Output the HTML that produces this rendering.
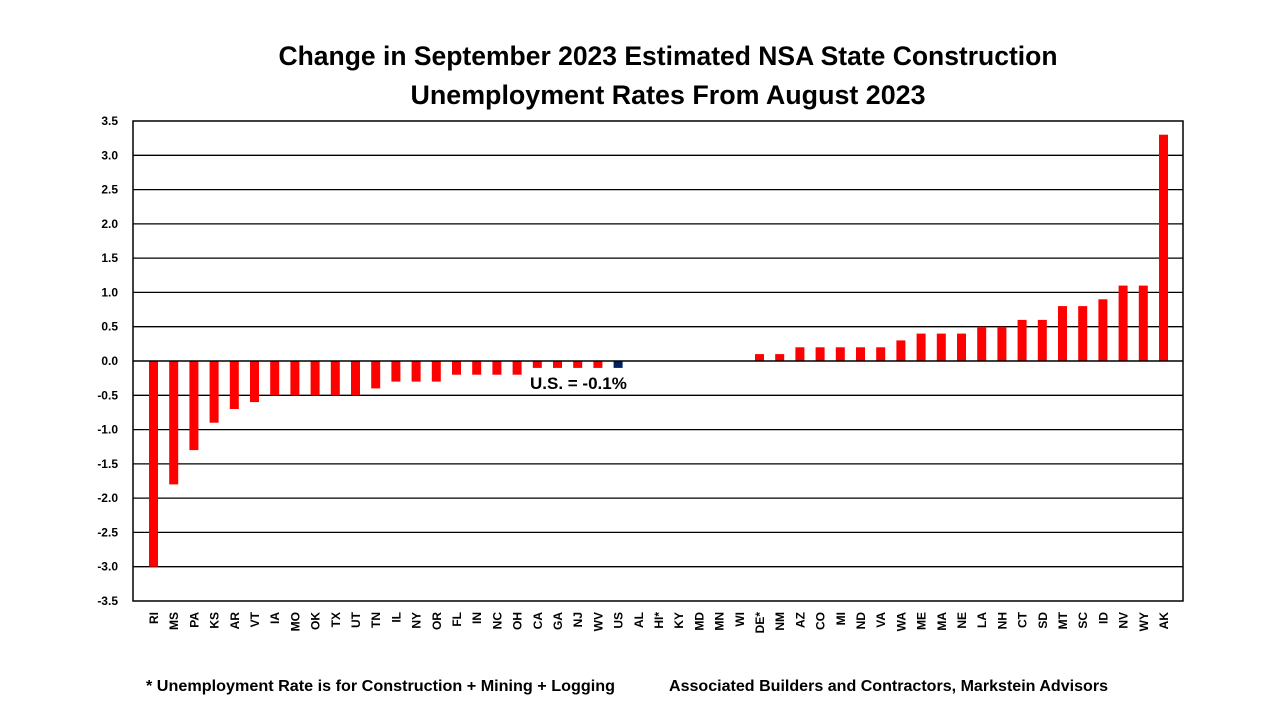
<!DOCTYPE html>
<html><head><meta charset="utf-8"><style>
html,body{margin:0;padding:0;background:#fff;}
svg{display:block;font-family:"Liberation Sans",Arial,sans-serif;font-weight:bold;}
</style></head><body>
<svg width="1280" height="720" viewBox="0 0 1280 720" xmlns="http://www.w3.org/2000/svg">
<rect width="1280" height="720" fill="#fff"/>
<text x="668" y="65" font-size="27" text-anchor="middle" textLength="779" lengthAdjust="spacingAndGlyphs">Change in September 2023 Estimated NSA State Construction</text>
<text x="668" y="104" font-size="27" text-anchor="middle" textLength="515" lengthAdjust="spacingAndGlyphs">Unemployment Rates From August 2023</text>
<g stroke="#000" stroke-width="1.3">
<line x1="133" y1="155.3" x2="1183" y2="155.3"/>
<line x1="133" y1="189.6" x2="1183" y2="189.6"/>
<line x1="133" y1="223.9" x2="1183" y2="223.9"/>
<line x1="133" y1="258.1" x2="1183" y2="258.1"/>
<line x1="133" y1="292.4" x2="1183" y2="292.4"/>
<line x1="133" y1="326.7" x2="1183" y2="326.7"/>
<line x1="133" y1="395.3" x2="1183" y2="395.3"/>
<line x1="133" y1="429.6" x2="1183" y2="429.6"/>
<line x1="133" y1="463.9" x2="1183" y2="463.9"/>
<line x1="133" y1="498.1" x2="1183" y2="498.1"/>
<line x1="133" y1="532.4" x2="1183" y2="532.4"/>
<line x1="133" y1="566.7" x2="1183" y2="566.7"/>
</g>
<g fill="#f00">
<rect x="149" y="361" width="9" height="205.7"/>
<rect x="169.2" y="361" width="9" height="123.4"/>
<rect x="189.4" y="361" width="9" height="89.1"/>
<rect x="209.6" y="361" width="9" height="61.7"/>
<rect x="229.8" y="361" width="9" height="48"/>
<rect x="250" y="361" width="9" height="41.1"/>
<rect x="270.2" y="361" width="9" height="34.3"/>
<rect x="290.4" y="361" width="9" height="34.3"/>
<rect x="310.6" y="361" width="9" height="34.3"/>
<rect x="330.8" y="361" width="9" height="34.3"/>
<rect x="351" y="361" width="9" height="34.3"/>
<rect x="371.2" y="361" width="9" height="27.4"/>
<rect x="391.4" y="361" width="9" height="20.6"/>
<rect x="411.6" y="361" width="9" height="20.6"/>
<rect x="431.8" y="361" width="9" height="20.6"/>
<rect x="452" y="361" width="9" height="13.7"/>
<rect x="472.2" y="361" width="9" height="13.7"/>
<rect x="492.4" y="361" width="9" height="13.7"/>
<rect x="512.6" y="361" width="9" height="13.7"/>
<rect x="532.8" y="361" width="9" height="6.9"/>
<rect x="553" y="361" width="9" height="6.9"/>
<rect x="573.2" y="361" width="9" height="6.9"/>
<rect x="593.4" y="361" width="9" height="6.9"/>
<rect x="755" y="354.1" width="9" height="6.9"/>
<rect x="775.2" y="354.1" width="9" height="6.9"/>
<rect x="795.4" y="347.3" width="9" height="13.7"/>
<rect x="815.6" y="347.3" width="9" height="13.7"/>
<rect x="835.8" y="347.3" width="9" height="13.7"/>
<rect x="856" y="347.3" width="9" height="13.7"/>
<rect x="876.2" y="347.3" width="9" height="13.7"/>
<rect x="896.4" y="340.4" width="9" height="20.6"/>
<rect x="916.6" y="333.6" width="9" height="27.4"/>
<rect x="936.8" y="333.6" width="9" height="27.4"/>
<rect x="957" y="333.6" width="9" height="27.4"/>
<rect x="977.2" y="326.7" width="9" height="34.3"/>
<rect x="997.4" y="326.7" width="9" height="34.3"/>
<rect x="1017.6" y="319.9" width="9" height="41.1"/>
<rect x="1037.8" y="319.9" width="9" height="41.1"/>
<rect x="1058" y="306.1" width="9" height="54.9"/>
<rect x="1078.2" y="306.1" width="9" height="54.9"/>
<rect x="1098.4" y="299.3" width="9" height="61.7"/>
<rect x="1118.6" y="285.6" width="9" height="75.4"/>
<rect x="1138.8" y="285.6" width="9" height="75.4"/>
<rect x="1159" y="134.7" width="9" height="226.3"/>
</g>
<rect x="613.6" y="361" width="9" height="6.9" fill="#002060"/>
<line x1="133" y1="361" x2="1183" y2="361" stroke="#000" stroke-width="1.5"/>
<rect x="133" y="121" width="1050" height="480" fill="none" stroke="#000" stroke-width="1.5"/>
<text x="530" y="389" font-size="17">U.S. = -0.1%</text>
<g font-size="12" text-anchor="end">
<text x="118" y="125">3.5</text>
<text x="118" y="159.3">3.0</text>
<text x="118" y="193.6">2.5</text>
<text x="118" y="227.9">2.0</text>
<text x="118" y="262.1">1.5</text>
<text x="118" y="296.4">1.0</text>
<text x="118" y="330.7">0.5</text>
<text x="118" y="365">0.0</text>
<text x="118" y="399.3">-0.5</text>
<text x="118" y="433.6">-1.0</text>
<text x="118" y="467.9">-1.5</text>
<text x="118" y="502.1">-2.0</text>
<text x="118" y="536.4">-2.5</text>
<text x="118" y="570.7">-3.0</text>
<text x="118" y="605">-3.5</text>
</g>
<g font-size="12" text-anchor="end">
<text transform="translate(158,612) rotate(-90)">RI</text>
<text transform="translate(178.2,612) rotate(-90)">MS</text>
<text transform="translate(198.4,612) rotate(-90)">PA</text>
<text transform="translate(218.6,612) rotate(-90)">KS</text>
<text transform="translate(238.8,612) rotate(-90)">AR</text>
<text transform="translate(259,612) rotate(-90)">VT</text>
<text transform="translate(279.2,612) rotate(-90)">IA</text>
<text transform="translate(299.4,612) rotate(-90)">MO</text>
<text transform="translate(319.6,612) rotate(-90)">OK</text>
<text transform="translate(339.8,612) rotate(-90)">TX</text>
<text transform="translate(360,612) rotate(-90)">UT</text>
<text transform="translate(380.2,612) rotate(-90)">TN</text>
<text transform="translate(400.4,612) rotate(-90)">IL</text>
<text transform="translate(420.6,612) rotate(-90)">NY</text>
<text transform="translate(440.8,612) rotate(-90)">OR</text>
<text transform="translate(461,612) rotate(-90)">FL</text>
<text transform="translate(481.2,612) rotate(-90)">IN</text>
<text transform="translate(501.4,612) rotate(-90)">NC</text>
<text transform="translate(521.6,612) rotate(-90)">OH</text>
<text transform="translate(541.8,612) rotate(-90)">CA</text>
<text transform="translate(562,612) rotate(-90)">GA</text>
<text transform="translate(582.2,612) rotate(-90)">NJ</text>
<text transform="translate(602.4,612) rotate(-90)">WV</text>
<text transform="translate(622.6,612) rotate(-90)">US</text>
<text transform="translate(642.8,612) rotate(-90)">AL</text>
<text transform="translate(663,612) rotate(-90)">HI*</text>
<text transform="translate(683.2,612) rotate(-90)">KY</text>
<text transform="translate(703.4,612) rotate(-90)">MD</text>
<text transform="translate(723.6,612) rotate(-90)">MN</text>
<text transform="translate(743.8,612) rotate(-90)">WI</text>
<text transform="translate(764,612) rotate(-90)">DE*</text>
<text transform="translate(784.2,612) rotate(-90)">NM</text>
<text transform="translate(804.4,612) rotate(-90)">AZ</text>
<text transform="translate(824.6,612) rotate(-90)">CO</text>
<text transform="translate(844.8,612) rotate(-90)">MI</text>
<text transform="translate(865,612) rotate(-90)">ND</text>
<text transform="translate(885.2,612) rotate(-90)">VA</text>
<text transform="translate(905.4,612) rotate(-90)">WA</text>
<text transform="translate(925.6,612) rotate(-90)">ME</text>
<text transform="translate(945.8,612) rotate(-90)">MA</text>
<text transform="translate(966,612) rotate(-90)">NE</text>
<text transform="translate(986.2,612) rotate(-90)">LA</text>
<text transform="translate(1006.4,612) rotate(-90)">NH</text>
<text transform="translate(1026.6,612) rotate(-90)">CT</text>
<text transform="translate(1046.8,612) rotate(-90)">SD</text>
<text transform="translate(1067,612) rotate(-90)">MT</text>
<text transform="translate(1087.2,612) rotate(-90)">SC</text>
<text transform="translate(1107.4,612) rotate(-90)">ID</text>
<text transform="translate(1127.6,612) rotate(-90)">NV</text>
<text transform="translate(1147.8,612) rotate(-90)">WY</text>
<text transform="translate(1168,612) rotate(-90)">AK</text>
</g>
<text x="146" y="691" font-size="16" textLength="469" lengthAdjust="spacingAndGlyphs">* Unemployment Rate is for Construction + Mining + Logging</text>
<text x="669" y="691" font-size="16" textLength="439" lengthAdjust="spacingAndGlyphs">Associated Builders and Contractors, Markstein Advisors</text>
</svg>
</body></html>
